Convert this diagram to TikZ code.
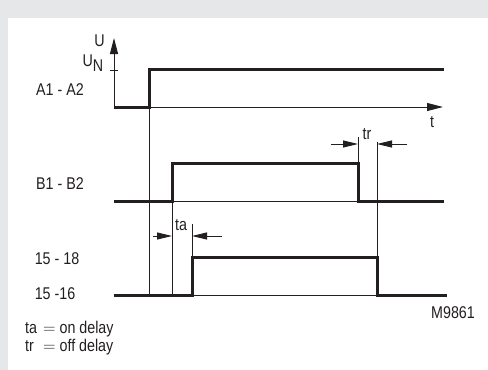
\documentclass[tikz,border=0pt]{standalone}
\usepackage{fontspec}
\setmainfont{Liberation Sans}[FakeStretch=0.84]
\usepackage{xcolor}
\usepackage{tikz}
\usetikzlibrary{arrows.meta,positioning}
\definecolor{ink}{HTML}{231F20}
\definecolor{panel}{HTML}{E6E7E8}

\begin{document}
\begin{tikzpicture}[
  x=1pt,y=-1pt,
  every node/.style={font=\fontsize{17}{18}\selectfont,text=ink,inner sep=0pt},
  pulse/.style={line width=3pt,draw=ink,line join=miter},
  guide/.style={line width=1pt,draw=ink},
  dimarrow/.style={guide,-{Triangle[length=15pt,width=7pt]}}
]
\useasboundingbox (0,0) rectangle (488,370);
\fill[panel] (0,0) rectangle (488,370);
\fill[white] (8,18) rectangle (488,370);

% axes
\coordinate (O) at (114,107);
\coordinate (Utop) at (114,38);
\coordinate (tend) at (443,107);
\draw[guide,-{Triangle[length=16pt,width=8pt]}] (O) -- (Utop);
\draw[guide,-{Triangle[length=16pt,width=8pt]}] (O) -- (tend);
\coordinate (tickL) at (110,70);
\coordinate (tickR) at (118,70);
\draw[guide] (tickL) -- (tickR);
\node (U) at (99.5,41) {U};
\node[anchor=east] (UN) at (103.5,63) {U\raisebox{-5pt}{N}};
\node (t) at (432,122) {t};

% time marks
\coordinate (a0) at (149,107);
\coordinate (a1) at (149,295);
\coordinate (b0) at (172,201);
\coordinate (b1) at (172,295);
\coordinate (c0) at (192,224);
\coordinate (c1) at (192,257);
\coordinate (d0) at (358,137);
\coordinate (d1) at (358,163);
\coordinate (e0) at (377,142);
\coordinate (e1) at (377,257);
\draw[guide] (a0) -- (a1);
\draw[guide] (b0) -- (b1);
\draw[guide] (c0) -- (c1);
\draw[guide] (d0) -- (d1);
\draw[guide] (e0) -- (e1);

% A1 - A2
\node (A) at (60,90) {A1 - A2};
\draw[pulse] (O) -- (a0) -- (149,69) -- (444,69);

% B1 - B2
\node (B) at (60,184) {B1 - B2};
\draw[guide] (b0) -- (358,201);
\draw[pulse] (114,201) -- (b0) -- (172,163) -- (d1) -- (358,201) -- (444,201);

% 15 - 18 / 15 -16
\node (K18) at (57,259) {15 - 18};
\node (K16) at (55,294) {15 -16};
\draw[guide] (192,295) -- (377,295);
\draw[pulse] (114,295) -- (192,295) -- (c1) -- (e1) -- (377,295) -- (447,295);

% delays
\draw[dimarrow] (153,236) -- (172,236);
\draw[dimarrow] (222,236) -- (192,236);
\node (ta) at (181,225) {ta};
\draw[dimarrow] (331,144) -- (358,144);
\draw[dimarrow] (407,144) -- (377,144);
\node (tr) at (367,134) {tr};

\node (ref) at (453,313) {M9861};
\node[anchor=west] (legta) at (25,329) {\makebox[18pt][l]{ta}$=$ on delay};
\node[anchor=west] (legtr) at (25,347) {\makebox[18pt][l]{tr}$=$ off delay};
\end{tikzpicture}
\end{document}
